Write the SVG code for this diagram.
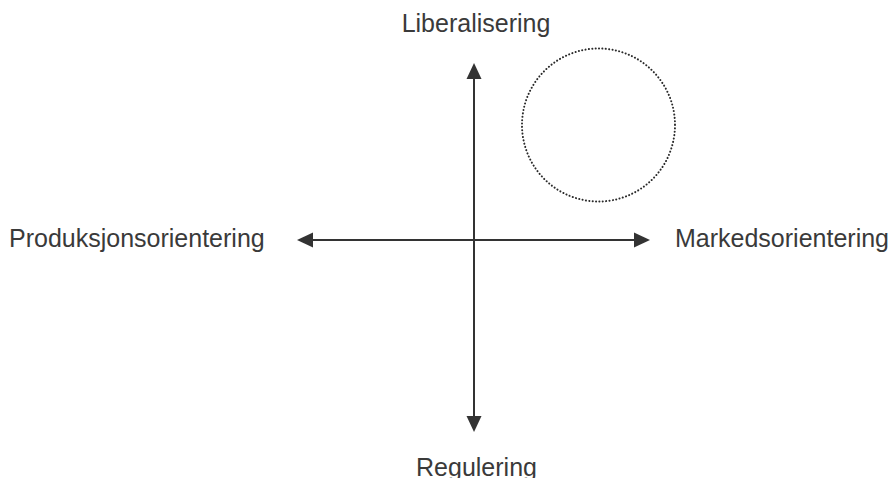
<svg xmlns="http://www.w3.org/2000/svg" width="894" height="478" viewBox="0 0 894 478">
<style>
.lbl{font-family:"Liberation Sans",Arial,sans-serif;font-size:25px;fill:#3a3a3a}
.axis{stroke:#333;stroke-width:2;fill:none}
</style>
<defs>
<marker id="ah" markerUnits="userSpaceOnUse" markerWidth="16" markerHeight="16" viewBox="0 0 16 16" refX="8" refY="8" orient="auto-start-reverse">
<path d="M0,0.5 L16,8 L0,15.5 z" fill="#333"/>
</marker>
</defs>
<rect width="894" height="478" fill="#fff"/>
<g id="connectors">
<line class="axis" x1="305" y1="240" x2="642" y2="240" marker-start="url(#ah)" marker-end="url(#ah)"/>
<line class="axis" x1="474" y1="71" x2="474" y2="424" marker-start="url(#ah)" marker-end="url(#ah)"/>
</g>
<g id="circle">
<circle cx="598.5" cy="125" r="76.5" fill="none" stroke="#2a2a2a" stroke-width="2" stroke-linecap="round" stroke-dasharray="0.1 3.3"/>
</g>
<g id="liberalisering"><text class="lbl" x="476" y="32" text-anchor="middle">Liberalisering</text></g>
<g id="regulering"><text class="lbl" x="476.5" y="476" text-anchor="middle">Regulering</text></g>
<g id="produksjon"><text class="lbl" x="9" y="247">Produksjonsorientering</text></g>
<g id="marked"><text class="lbl" x="675" y="247">Markedsorientering</text></g>
</svg>
